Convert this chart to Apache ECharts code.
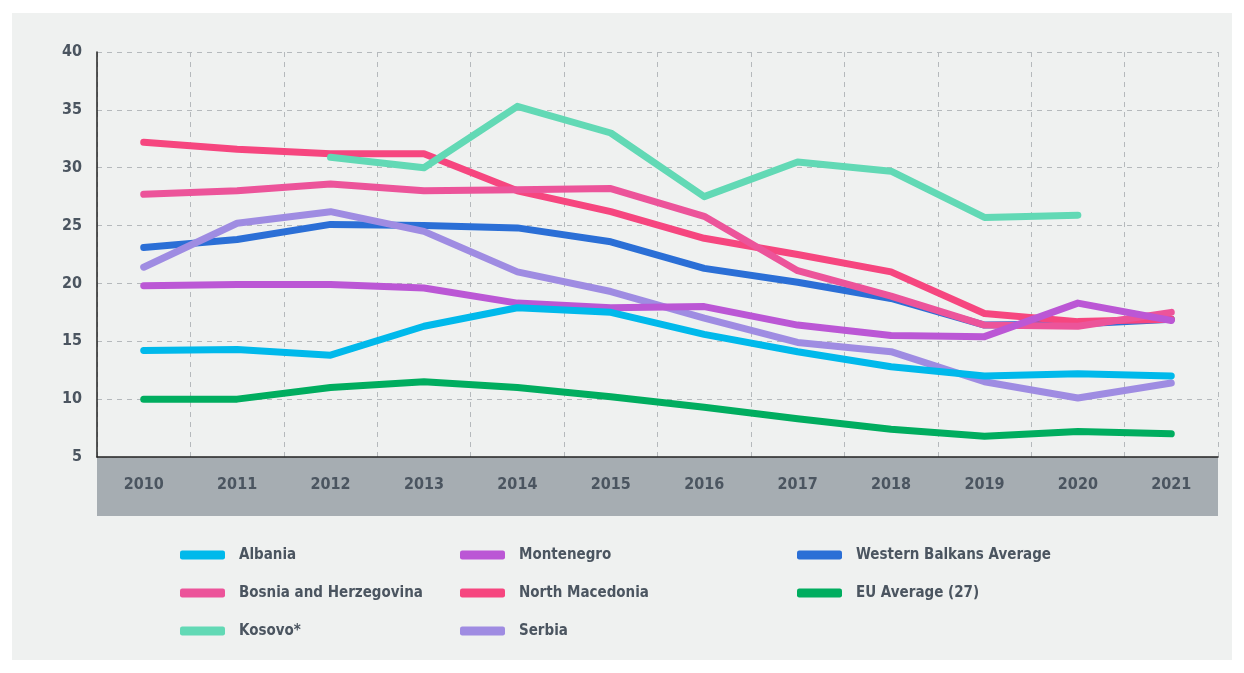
<!DOCTYPE html>
<html>
<head>
<meta charset="utf-8">
<script src="https://cdn.jsdelivr.net/npm/echarts@6/dist/echarts.min.js"></script>
<style>
  html, body { margin: 0; padding: 0; background: #ffffff; }
  #chart { position: absolute; left: 12px; top: 13px; width: 1220px; height: 647px; }
</style>
</head>
<body>
<div id="chart"></div>
<script>
// 数据
var years = ['2010', '2011', '2012', '2013', '2014', '2015', '2016', '2017', '2018', '2019', '2020', '2021'];
var albania     = [14.2, 14.3, 13.8, 16.3, 17.9, 17.5, 15.6, 14.1, 12.8, 12.0, 12.2, 12.0];
var bosnia      = [27.7, 28.0, 28.6, 28.0, 28.1, 28.2, 25.8, 21.1, 18.9, 16.4, 16.3, 17.5];
var kosovo      = [null, null, 30.9, 30.0, 35.3, 33.0, 27.5, 30.5, 29.7, 25.7, 25.9, null];
var montenegro  = [19.8, 19.9, 19.9, 19.6, 18.3, 17.9, 18.0, 16.4, 15.5, 15.4, 18.3, 16.8];
var macedonia   = [32.2, 31.6, 31.2, 31.2, 28.0, 26.2, 23.9, 22.5, 21.0, 17.4, 16.7, 16.9];
var serbia      = [21.4, 25.2, 26.2, 24.5, 21.0, 19.3, 17.0, 14.9, 14.1, 11.5, 10.1, 11.4];
var wbAverage   = [23.1, 23.8, 25.1, 25.0, 24.8, 23.6, 21.3, 20.1, 18.7, 16.4, 16.5, 16.9];
var euAverage   = [10.0, 10.0, 11.0, 11.5, 11.0, 10.2, 9.3, 8.3, 7.4, 6.8, 7.2, 7.0];
var yTicks = [5, 40, 5]; // min, max, interval

var chart = echarts.init(document.getElementById('chart'));

var fontFamily = '"DejaVu Sans Condensed", "Liberation Sans Narrow", sans-serif';
var textColor = '#4b5560';

function line(name, data, color) {
	return {
		name: name,
		type: 'line',
		data: data,
		symbol: 'none',
		connectNulls: false,
		animation: false,
		lineStyle: { color: color, width: 7, cap: 'round', join: 'round' },
		itemStyle: { color: color }
	};
}

function legendCol(left, names) {
	return {
		orient: 'vertical',
		left: left,
		top: 527,
		icon: 'roundRect',
		itemWidth: 45,
		itemHeight: 9,
		itemGap: 18,
		selectedMode: false,
		textStyle: {
			color: textColor,
			fontFamily: fontFamily,
			fontWeight: 'bold',
			fontSize: 15,
			lineHeight: 20,
			padding: [0, 0, 0, 9]
		},
		data: names
	};
}

var option = {
	backgroundColor: '#eff1f0',
	animation: false,
	grid: [
		{ left: 85, right: 14, top: 39, bottom: 203 },
		// x轴灰色底
		{ left: 85, right: 14, top: 444, height: 59, show: true, backgroundColor: '#a6adb2', borderWidth: 0 }
	],
	legend: [
		legendCol(163, ['Albania', 'Bosnia and Herzegovina', 'Kosovo*']),
		legendCol(443, ['Montenegro', 'North Macedonia', 'Serbia']),
		legendCol(780, ['Western Balkans Average', 'EU Average (27)'])
	],
	xAxis: [{
		type: 'category',
		gridIndex: 0,
		data: years,
		boundaryGap: true,
		axisLine: { show: true, lineStyle: { color: '#222', width: 1.5 } },
		axisTick: { show: false },
		axisLabel: {
			margin: 20,
			color: textColor,
			fontFamily: fontFamily,
			fontWeight: 'bold',
			fontSize: 16
		},
		splitLine: { show: true, lineStyle: { type: [5, 5], color: '#b5b9bc', width: 1 } }
	}, {
		type: 'category',
		gridIndex: 1,
		data: years,
		show: false
	}],
	yAxis: [{
		type: 'value',
		gridIndex: 0,
		min: yTicks[0],
		max: yTicks[1],
		interval: yTicks[2],
		axisLine: { show: true, lineStyle: { color: '#222', width: 1.5 } },
		axisTick: { show: false },
		axisLabel: {
			margin: 15,
			color: textColor,
			fontFamily: fontFamily,
			fontWeight: 'bold',
			fontSize: 16
		},
		splitLine: { show: true, lineStyle: { type: [5, 5], color: '#b5b9bc', width: 1 } }
	}, {
		type: 'value',
		gridIndex: 1,
		show: false
	}],
	series: [
		line('EU Average (27)', euAverage, '#00ad5f'),
		line('Western Balkans Average', wbAverage, '#2b6fd6'),
		line('Serbia', serbia, '#9f8ce2'),
		line('North Macedonia', macedonia, '#f6467f'),
		line('Bosnia and Herzegovina', bosnia, '#ec549a'),
		line('Montenegro', montenegro, '#bb57d5'),
		line('Kosovo*', kosovo, '#62d9b5'),
		line('Albania', albania, '#00b9eb')
	]
};

chart.setOption(option);
</script>
</body>
</html>
